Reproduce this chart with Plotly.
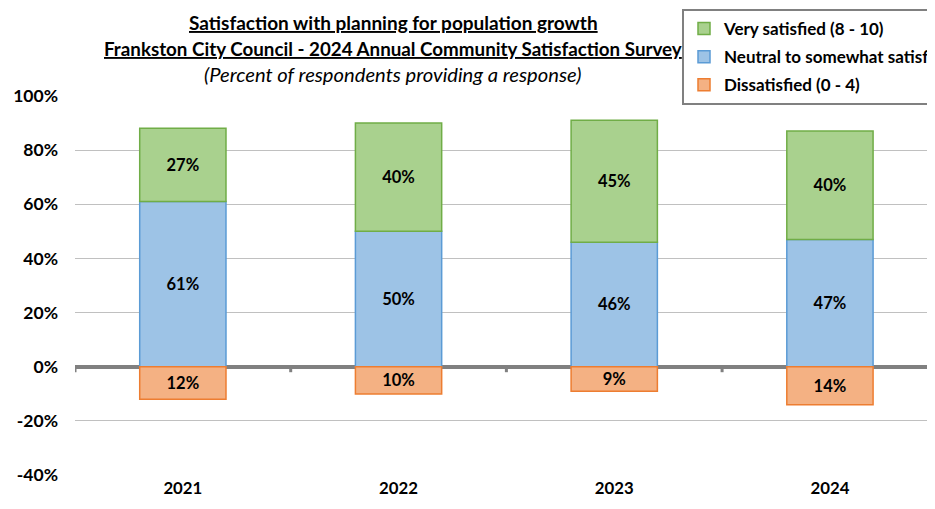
import plotly.graph_objects as go

years = ["2021", "2022", "2023", "2024"]
very_satisfied = [27, 40, 45, 40]
neutral = [61, 50, 46, 47]
dissatisfied = [-12, -10, -9, -14]
series_names = ["Very satisfied (8 - 10)", "Neutral to somewhat satisfied (5 - 7)", "Dissatisfied (0 - 4)"]
y_ticks = [-40, -20, 0, 20, 40, 60, 80, 100]

FONT = "Lato, Carlito, Calibri, sans-serif"
OFF = 8  # page body margin
W, H = 935 - 2 * OFF, 509 - 2 * OFF
ML, MR, MT, MB = 75 - OFF, 0, 95 - OFF, H - (476 - OFF)
pw, ph = W - ML - MR, H - MT - MB

def px2x(px):
    return (px - OFF - ML) / pw

def py2y(py):
    return (H - MB - (py - OFF)) / ph

fig = go.Figure()

def bar(vals, name, fill, line, rank):
    fig.add_trace(go.Bar(
        x=years, y=vals, name=name,
        marker=dict(color=fill, line=dict(color=line, width=1.5)),
        text=[f"{abs(v)}%" for v in vals],
        textposition="inside", insidetextanchor="middle", textangle=0,
        constraintext="none",
        textfont=dict(family=FONT, size=16.5, color="black", weight="bold"),
        legendrank=rank, legendgroup=name,
        hoverinfo="skip",
    ))

bar(neutral, series_names[1], "#9DC3E6", "#5B9BD5", 2)
bar(very_satisfied, series_names[0], "#A9D18E", "#70AD47", 1)
bar(dissatisfied, series_names[2], "#F4B183", "#ED7D31", 3)

# small tick marks on the zero line at category boundaries
for b in [-0.5, 0.5, 1.5, 2.5]:
    fig.add_shape(type="line", xref="x", yref="y", x0=b, x1=b, y0=0, y1=-2.0,
                  line=dict(color="#808080", width=3), layer="above")

fig.add_annotation(text="<b><u>Satisfaction with planning for population growth</u></b>",
                   xref="paper", yref="paper", x=px2x(393), y=py2y(22),
                   showarrow=False, xanchor="center", yanchor="middle",
                   font=dict(family=FONT, size=19, color="black"))
fig.add_annotation(text="<b><u>Frankston City Council - 2024 Annual Community Satisfaction Survey</u></b>",
                   xref="paper", yref="paper", x=px2x(393), y=py2y(48),
                   showarrow=False, xanchor="center", yanchor="middle",
                   font=dict(family=FONT, size=18.8, color="black"))
fig.add_annotation(text="<i>(Percent of respondents providing a response)</i>",
                   xref="paper", yref="paper", x=px2x(393), y=py2y(74),
                   showarrow=False, xanchor="center", yanchor="middle",
                   font=dict(family=FONT, size=20.2, color="black"))

fig.update_layout(
    width=W, height=H,
    margin=dict(l=ML, r=MR, t=MT, b=MB, autoexpand=False),
    barmode="relative", bargap=0.6,
    plot_bgcolor="white", paper_bgcolor="white",
    font=dict(family=FONT, size=17, color="black"),
    showlegend=True,
    legend=dict(
        x=px2x(682), y=py2y(9), xanchor="left", yanchor="top",
        bgcolor="white", bordercolor="#808080", borderwidth=2,
        font=dict(family=FONT, size=17, color="black", weight="bold"),
        traceorder="grouped", tracegroupgap=3,
        itemwidth=30,
    ),
    xaxis=dict(
        showgrid=False, showline=False, ticks="",
        tickfont=dict(family=FONT, size=16.8, color="black", weight="bold"),
        range=[-0.5, 3.45],
    ),
    yaxis=dict(
        range=[-40.3, 100.3], tickvals=y_ticks,
        ticktext=[f"{v}%" for v in y_ticks],
        showgrid=True, gridcolor="#C0C0C0", gridwidth=1.2,
        zeroline=True, zerolinecolor="#808080", zerolinewidth=4,
        showline=False, ticks="",
        tickfont=dict(family=FONT, size=17.5, color="black", weight="bold"),
        ticklabelstandoff=16,
    ),
)

fig.write_html("out.html")
